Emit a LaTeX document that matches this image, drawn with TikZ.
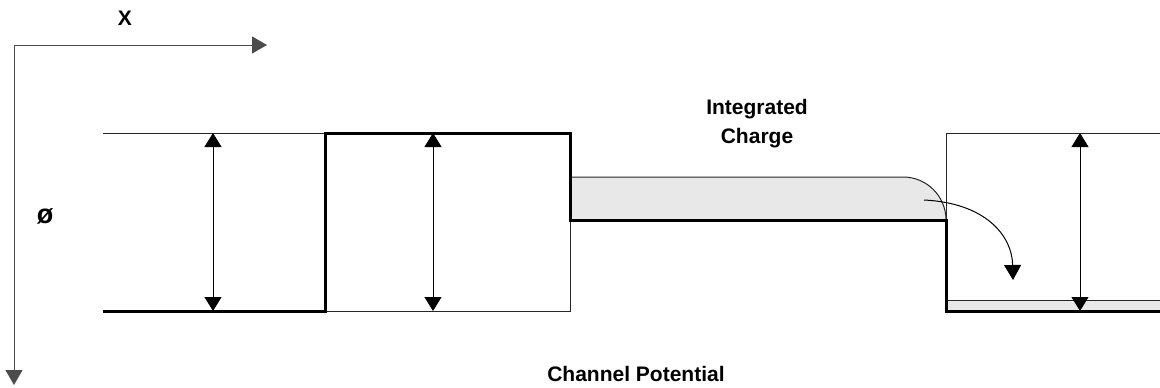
\documentclass[tikz,border=0pt]{standalone}
\usepackage{fontspec}
\setmainfont{Liberation Sans}
\usetikzlibrary{arrows.meta}

\begin{document}
\begin{tikzpicture}[x=1pt, y=-1pt,
  thinline/.style={line width=1pt, black!85},
  boldline/.style={line width=3pt, black},
  axis/.style={-{Triangle[length=15pt, width=17pt]}, line width=1pt, black!70},
  arrow/.style={-{Triangle[length=15pt, width=17pt]}, line width=1pt, black},
  dblarrow/.style={{Triangle[length=14pt, width=17pt]}-{Triangle[length=14pt, width=17pt]}, line width=1pt, black},
  charge/.style={fill=black!9, draw=black!85, line width=1pt},
  label/.style={font=\fontsize{21}{29}\selectfont\bfseries, align=center, inner sep=0pt}]

\useasboundingbox (0,0) rectangle (1160,388);

% axes
\coordinate (origin) at (14,45);
\coordinate (xend) at (267,45);
\coordinate (yend) at (14,385);
\draw[axis] (origin) -- (xend);
\draw[axis] (origin) -- (yend);
\node[label] (xlab) at (125,18) {X};
\node[label, font=\fontsize{27}{29}\selectfont\bfseries] (philab) at (45,216) {ø};

% stored charge under the gate and in the next well
\fill[black!9] (570,177) -- (903,177) arc[start angle=-90, end angle=0, radius=43] -- (570,220) -- cycle;
\draw[thinline] (570,177) -- (903,177) arc[start angle=-90, end angle=0, radius=43];
\draw[charge] (946,300) rectangle (1160,311);

% empty levels
\draw[thinline] (103,133) -- (325,133);
\draw[thinline] (325,311) -- (570,311) -- (570,220);
\draw[thinline] (946,220) -- (946,133) -- (1160,133);

% potential profile
\draw[boldline] (103,311) -| (325,133) -| (570,220) -| (946,311) -- (1160,311);

% well depths
\coordinate (w1t) at (213,133);
\coordinate (w1b) at (213,311);
\coordinate (w2t) at (433,133);
\coordinate (w2b) at (433,311);
\coordinate (w3t) at (1080,133);
\coordinate (w3b) at (1080,311);
\draw[dblarrow] (w1t) -- (w1b);
\draw[dblarrow] (w2t) -- (w2b);
\draw[dblarrow] (w3t) -- (w3b);

% charge spilling over
\coordinate (spill) at (924,200);
\coordinate (drop) at (1013,280);
\draw[arrow] (spill) .. controls (985,203) and (1012,235) .. (drop);

\node[label] (chg) at (757,124) {Integrated\\Charge};
\node[label] (chpot) at (636,374) {Channel Potential};
\end{tikzpicture}
\end{document}
